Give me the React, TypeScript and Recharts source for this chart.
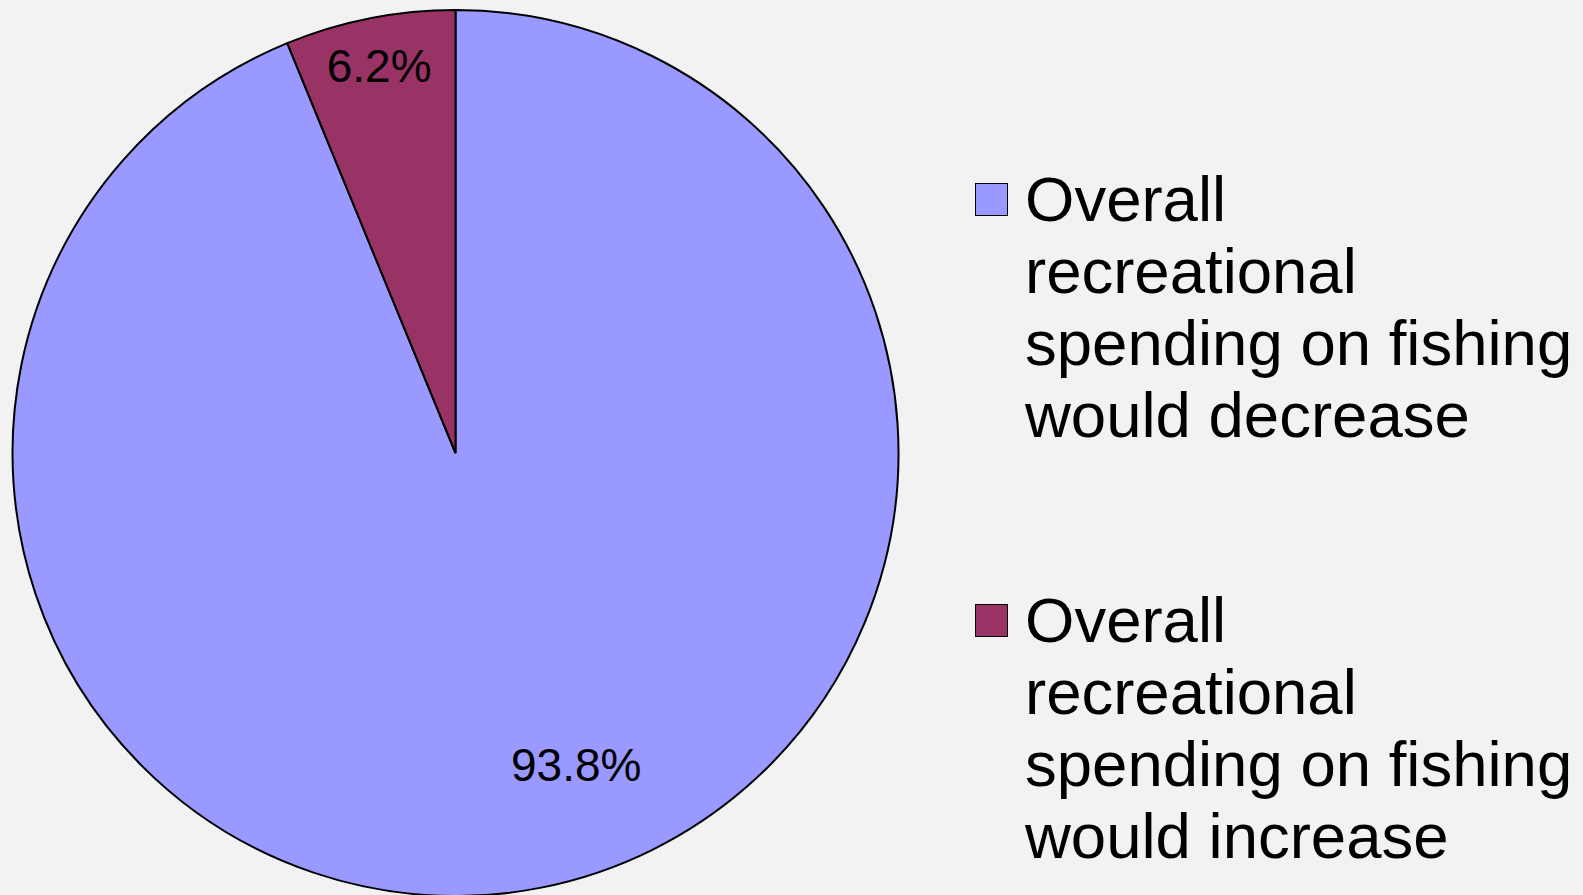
import { PieChart, Pie, Cell, Legend } from "recharts";

const categories = [
  "Overall recreational spending on fishing would decrease",
  "Overall recreational spending on fishing would increase",
];
const shares = [93.8, 6.2];
const sliceColors = ["#9999FF", "#993366"];

const data = categories.map((name, i) => ({ name, value: shares[i] }));

// label placement tweaks (fraction of radius, angle shift in degrees)
const LABEL_RADIUS = [0.755, 0.89];
const LABEL_SHIFT = [10, 0];

const RAD = Math.PI / 180;

const renderLabel = (props: any) => {
  const { cx, cy, midAngle, outerRadius, index, value } = props;
  const r = outerRadius * LABEL_RADIUS[index];
  const a = (midAngle + LABEL_SHIFT[index]) * RAD;
  const x = cx + r * Math.cos(a);
  const y = cy - r * Math.sin(a);
  return (
    <text
      x={x}
      y={y}
      textAnchor="middle"
      dominantBaseline="central"
      fill="#000"
      fontSize={46}
      fontFamily="'Liberation Sans', Arial, sans-serif"
    >
      {`${Number(value).toFixed(1)}%`}
    </text>
  );
};

// break legend names the way the original wraps them
const wrapName = (name: string) => {
  const words = name.split(" ");
  return [words[0], words[1], words.slice(2, 5).join(" "), words.slice(5).join(" ")];
};

const renderLegend = (props: any) => {
  const { payload } = props;
  return (
    <div style={{ position: "relative" }}>
      {(payload || []).map((entry: any, i: number) => (
        <div key={i} style={{ position: "absolute", left: 0, top: i * 421, width: 608 }}>
          <div
            style={{
              position: "absolute",
              left: 0,
              top: 20,
              width: 33,
              height: 33,
              background: sliceColors[i],
              border: "1.5px solid #000",
              boxSizing: "border-box",
            }}
          />
          <div
            style={{
              position: "absolute",
              left: 50,
              top: 0,
              fontSize: 63.5,
              lineHeight: "72px",
              color: "#000",
              whiteSpace: "nowrap",
              fontFamily: "'Liberation Sans', Arial, sans-serif",
            }}
          >
            {wrapName(entry.value).map((line, j) => (
              <div key={j}>{line}</div>
            ))}
          </div>
        </div>
      ))}
    </div>
  );
};

export default function App() {
  return (
    <div
      style={{
        position: "fixed",
        left: 0,
        top: 0,
        width: 1583,
        height: 895,
        background: "#F2F2F2",
        overflow: "hidden",
      }}
    >
      <PieChart width={1583} height={895} margin={{ top: 0, right: 0, bottom: 0, left: 0 }}>
        <Pie
          data={data}
          dataKey="value"
          nameKey="name"
          cx={455.5}
          cy={453}
          outerRadius={443}
          startAngle={90}
          endAngle={-270}
          stroke="#000"
          strokeWidth={2}
          label={renderLabel}
          labelLine={false}
          isAnimationActive={false}
        >
          {data.map((_, i) => (
            <Cell key={i} fill={sliceColors[i]} />
          ))}
        </Pie>
        <Legend
          layout="vertical"
          align="right"
          verticalAlign="top"
          content={renderLegend}
          wrapperStyle={{ position: "absolute", left: 975, top: 163, width: 608, height: 720 }}
        />
      </PieChart>
    </div>
  );
}
